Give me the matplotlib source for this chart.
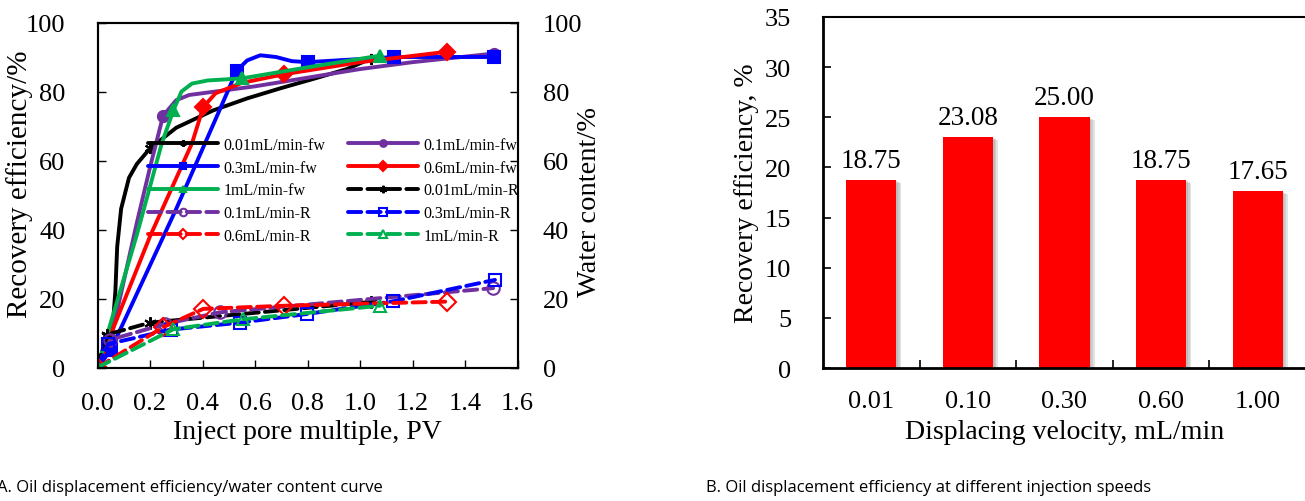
import matplotlib
matplotlib.use("Agg")
import matplotlib.pyplot as plt
import matplotlib.patheffects as pe

plt.rcParams['font.family'] = ['Liberation Serif', 'DejaVu Serif']

# ---- panel A data ----
# solid lines: water content (-fw), dashed lines: recovery (-R)
x_fw_001 = [0, 0.035, 0.06, 0.068, 0.075, 0.09, 0.12, 0.15, 0.2, 0.3, 0.44, 0.57, 0.7, 0.82, 0.95, 1.04]
y_fw_001 = [0, 9, 14, 22, 35, 46, 55, 59, 63.5, 69.5, 74.5, 78, 81, 83.6, 86.5, 89.5]
mk_fw_001 = [0, 1, 8, 15]

x_fw_01 = [0, 0.05, 0.1, 0.15, 0.2, 0.25, 0.3, 0.35, 0.45, 0.6, 0.8, 1.0, 1.2, 1.51]
y_fw_01 = [0, 8, 25, 42, 58, 73, 77.5, 79, 80, 81.5, 84, 86.5, 88.5, 91]
mk_fw_01 = [0, 1, 5, 13]

x_fw_03 = [0, 0.05, 0.3, 0.45, 0.53, 0.57, 0.62, 0.68, 0.74, 0.8, 1.13, 1.51]
y_fw_03 = [0, 5, 46, 72, 86, 89, 90.5, 90, 88.8, 88.5, 90, 90]
mk_fw_03 = [0, 1, 4, 9, 10, 11]

x_fw_06 = [0, 0.2, 0.36, 0.403, 0.45, 0.55, 0.71, 1.0, 1.33]
y_fw_06 = [0, 38, 65, 75.5, 79.5, 82.5, 85, 88.5, 91.5]
mk_fw_06 = [0, 3, 6, 8]

x_fw_1 = [0, 0.15, 0.245, 0.289, 0.32, 0.36, 0.42, 0.55, 0.8, 1.076]
y_fw_1 = [0, 38.5, 65, 74.5, 80, 82.3, 83.2, 83.8, 87, 90.4]
mk_fw_1 = [0, 3, 7, 9]

x_r_001 = [0, 0.035, 0.2, 1.04]
y_r_001 = [0, 9.5, 13, 19]
x_r_01 = [0, 0.047, 0.257, 0.467, 1.507]
y_r_01 = [0, 8, 12.6, 16, 23]
x_r_03 = [0, 0.041, 0.28, 0.543, 0.797, 1.127, 1.514]
y_r_03 = [0, 6.8, 11, 13, 15.5, 19.2, 25.4]
x_r_06 = [0, 0.25, 0.403, 0.71, 1.33]
y_r_06 = [0, 11.7, 17, 17.9, 19.1]
x_r_1 = [0, 0.289, 0.556, 1.076]
y_r_1 = [0, 11.1, 14, 17.9]

# ---- panel B data ----
velocity = ['0.01', '0.10', '0.30', '0.60', '1.00']
recovery = [18.75, 23.08, 25.00, 18.75, 17.65]

black = '#000000'
purple = '#7030A0'
blue = '#0000FF'
red = '#FF0000'
green = '#00B050'
star = (6, 2, 0)

fig = plt.figure(figsize=(13.05, 5.02), dpi=100)
W, H = 1305, 502

# ---------------- panel A ----------------
ax = fig.add_axes([97.5 / W, 1 - 368.5 / H, 420 / W, 345 / H])
ax2 = ax.twinx()
lw = 2.8
ms = 8
dash = (3.4, 1.6)

solid = [
    (x_fw_001, y_fw_001, mk_fw_001, black, star, '0.01mL/min-fw'),
    (x_fw_01, y_fw_01, mk_fw_01, purple, 'o', '0.1mL/min-fw'),
    (x_fw_03, y_fw_03, mk_fw_03, blue, 's', '0.3mL/min-fw'),
    (x_fw_06, y_fw_06, mk_fw_06, red, 'D', '0.6mL/min-fw'),
    (x_fw_1, y_fw_1, mk_fw_1, green, '^', '1mL/min-fw'),
]
dashed = [
    (x_r_001, y_r_001, black, star, '0.01mL/min-R'),
    (x_r_01, y_r_01, purple, 'o', '0.1mL/min-R'),
    (x_r_03, y_r_03, blue, 's', '0.3mL/min-R'),
    (x_r_06, y_r_06, red, 'D', '0.6mL/min-R'),
    (x_r_1, y_r_1, green, '^', '1mL/min-R'),
]

handles = {}
for xs, ys, mk, c, m, lab in solid:
    h, = ax.plot(xs, ys, color=c, lw=lw, marker=m, markevery=mk, ms=ms,
                 mec=c, mfc=c, mew=1.5, label=lab, solid_capstyle='round')
    handles[lab] = h
for xs, ys, c, m, lab in dashed:
    h, = ax.plot(xs, ys, color=c, lw=lw, ls=(0, dash), marker=m, ms=ms + 1,
                 mec=c, mfc='none', mew=1.5, label=lab, dash_capstyle='round')
    handles[lab] = h

# legend is filled column by column, so order the entries to read row-wise
order = ['0.01mL/min-fw', '0.3mL/min-fw', '1mL/min-fw', '0.1mL/min-R', '0.6mL/min-R',
         '0.1mL/min-fw', '0.6mL/min-fw', '0.01mL/min-R', '0.3mL/min-R', '1mL/min-R']
ax.legend([handles[k] for k in order], order, ncol=2, frameon=False,
          loc='upper left', bbox_to_anchor=(0.12, 0.668), fontsize=11.5,
          handlelength=4.4, handletextpad=0.35, columnspacing=1.4,
          labelspacing=0.42, borderpad=0, borderaxespad=0,
          markerscale=0.6, numpoints=1)

ax.set_xlim(0, 1.6)
ax.set_ylim(0, 100)
ax.set_xticks([0, 0.2, 0.4, 0.6, 0.8, 1.0, 1.2, 1.4, 1.6])
ax.set_xticklabels(['0.0', '0.2', '0.4', '0.6', '0.8', '1.0', '1.2', '1.4', '1.6'])
ax.set_yticks([0, 20, 40, 60, 80, 100])
ax.tick_params(axis='x', direction='in', length=6, width=1, labelsize=19, pad=18)
ax.tick_params(axis='y', direction='in', length=6, width=1, labelsize=19, pad=23)
for s in ax.spines.values():
    s.set_linewidth(1.5)
ax.set_xlabel('Inject pore multiple, PV', fontsize=20)
ax.xaxis.set_label_coords(0.5, -0.149)
ax.set_ylabel('Recovery efficiency/%', fontsize=21)
ax.yaxis.set_label_coords(-0.154, 0.535)

ax2.set_ylim(0, 100)
ax2.set_yticks([0, 20, 40, 60, 80, 100])
ax2.tick_params(axis='y', direction='in', length=6, width=1, labelsize=19, pad=18)
ax2.set_ylabel('Water content/%', fontsize=20.5)
ax2.yaxis.set_label_coords(1.1417, 0.483)
for s in ax2.spines.values():
    s.set_linewidth(1.5)

# ---------------- panel B ----------------
bx = fig.add_axes([823 / W, 1 - 369 / H, 483 / W, 351 / H])
pos = list(range(len(velocity)))
bars = bx.bar(pos, recovery, width=0.52, color=red, zorder=2)
shadow = [pe.SimplePatchShadow(offset=(o, -o * 0.6), shadow_rgbFace='gray', alpha=0.22)
          for o in (1.2, 2.4, 3.6)]
for b in bars:
    b.set_path_effects(shadow + [pe.Normal()])
bx.bar_label(bars, labels=['%.2f' % v for v in recovery], padding=5, fontsize=19.5)
bx.set_xlim(-0.5, len(velocity) - 0.5)
bx.set_ylim(0, 35)
bx.set_xticks(pos)
bx.set_xticklabels(velocity)
bx.set_xticks([p + 0.5 for p in pos[:-1]], minor=True)
bx.tick_params(axis='x', which='major', length=0, labelsize=19, pad=16)
bx.tick_params(axis='x', which='minor', direction='in', length=6, width=1.2)
bx.set_yticks(range(0, 36, 5))
bx.tick_params(axis='y', direction='in', length=6, width=1.2, labelsize=19, pad=23)
bx.spines['left'].set_linewidth(2)
bx.spines['bottom'].set_linewidth(2)
bx.spines['top'].set_linewidth(1.5)
bx.spines['right'].set_visible(False)
bx.set_xlabel('Displacing velocity, mL/min', fontsize=20)
bx.xaxis.set_label_coords(0.5, -0.145)
bx.set_ylabel('Recovery efficiency, %', fontsize=20)
bx.yaxis.set_label_coords(-0.1325, 0.5)

# captions
fig.text(-0.002, 1 - 488 / H, 'A. Oil displacement efficiency/water content curve',
         family='Open Sans', fontsize=12, va='center', ha='left')
fig.text(706 / W, 1 - 488 / H, 'B. Oil displacement efficiency at different injection speeds',
         family='Open Sans', fontsize=12, va='center', ha='left')

fig.savefig('out.png', dpi=100)
